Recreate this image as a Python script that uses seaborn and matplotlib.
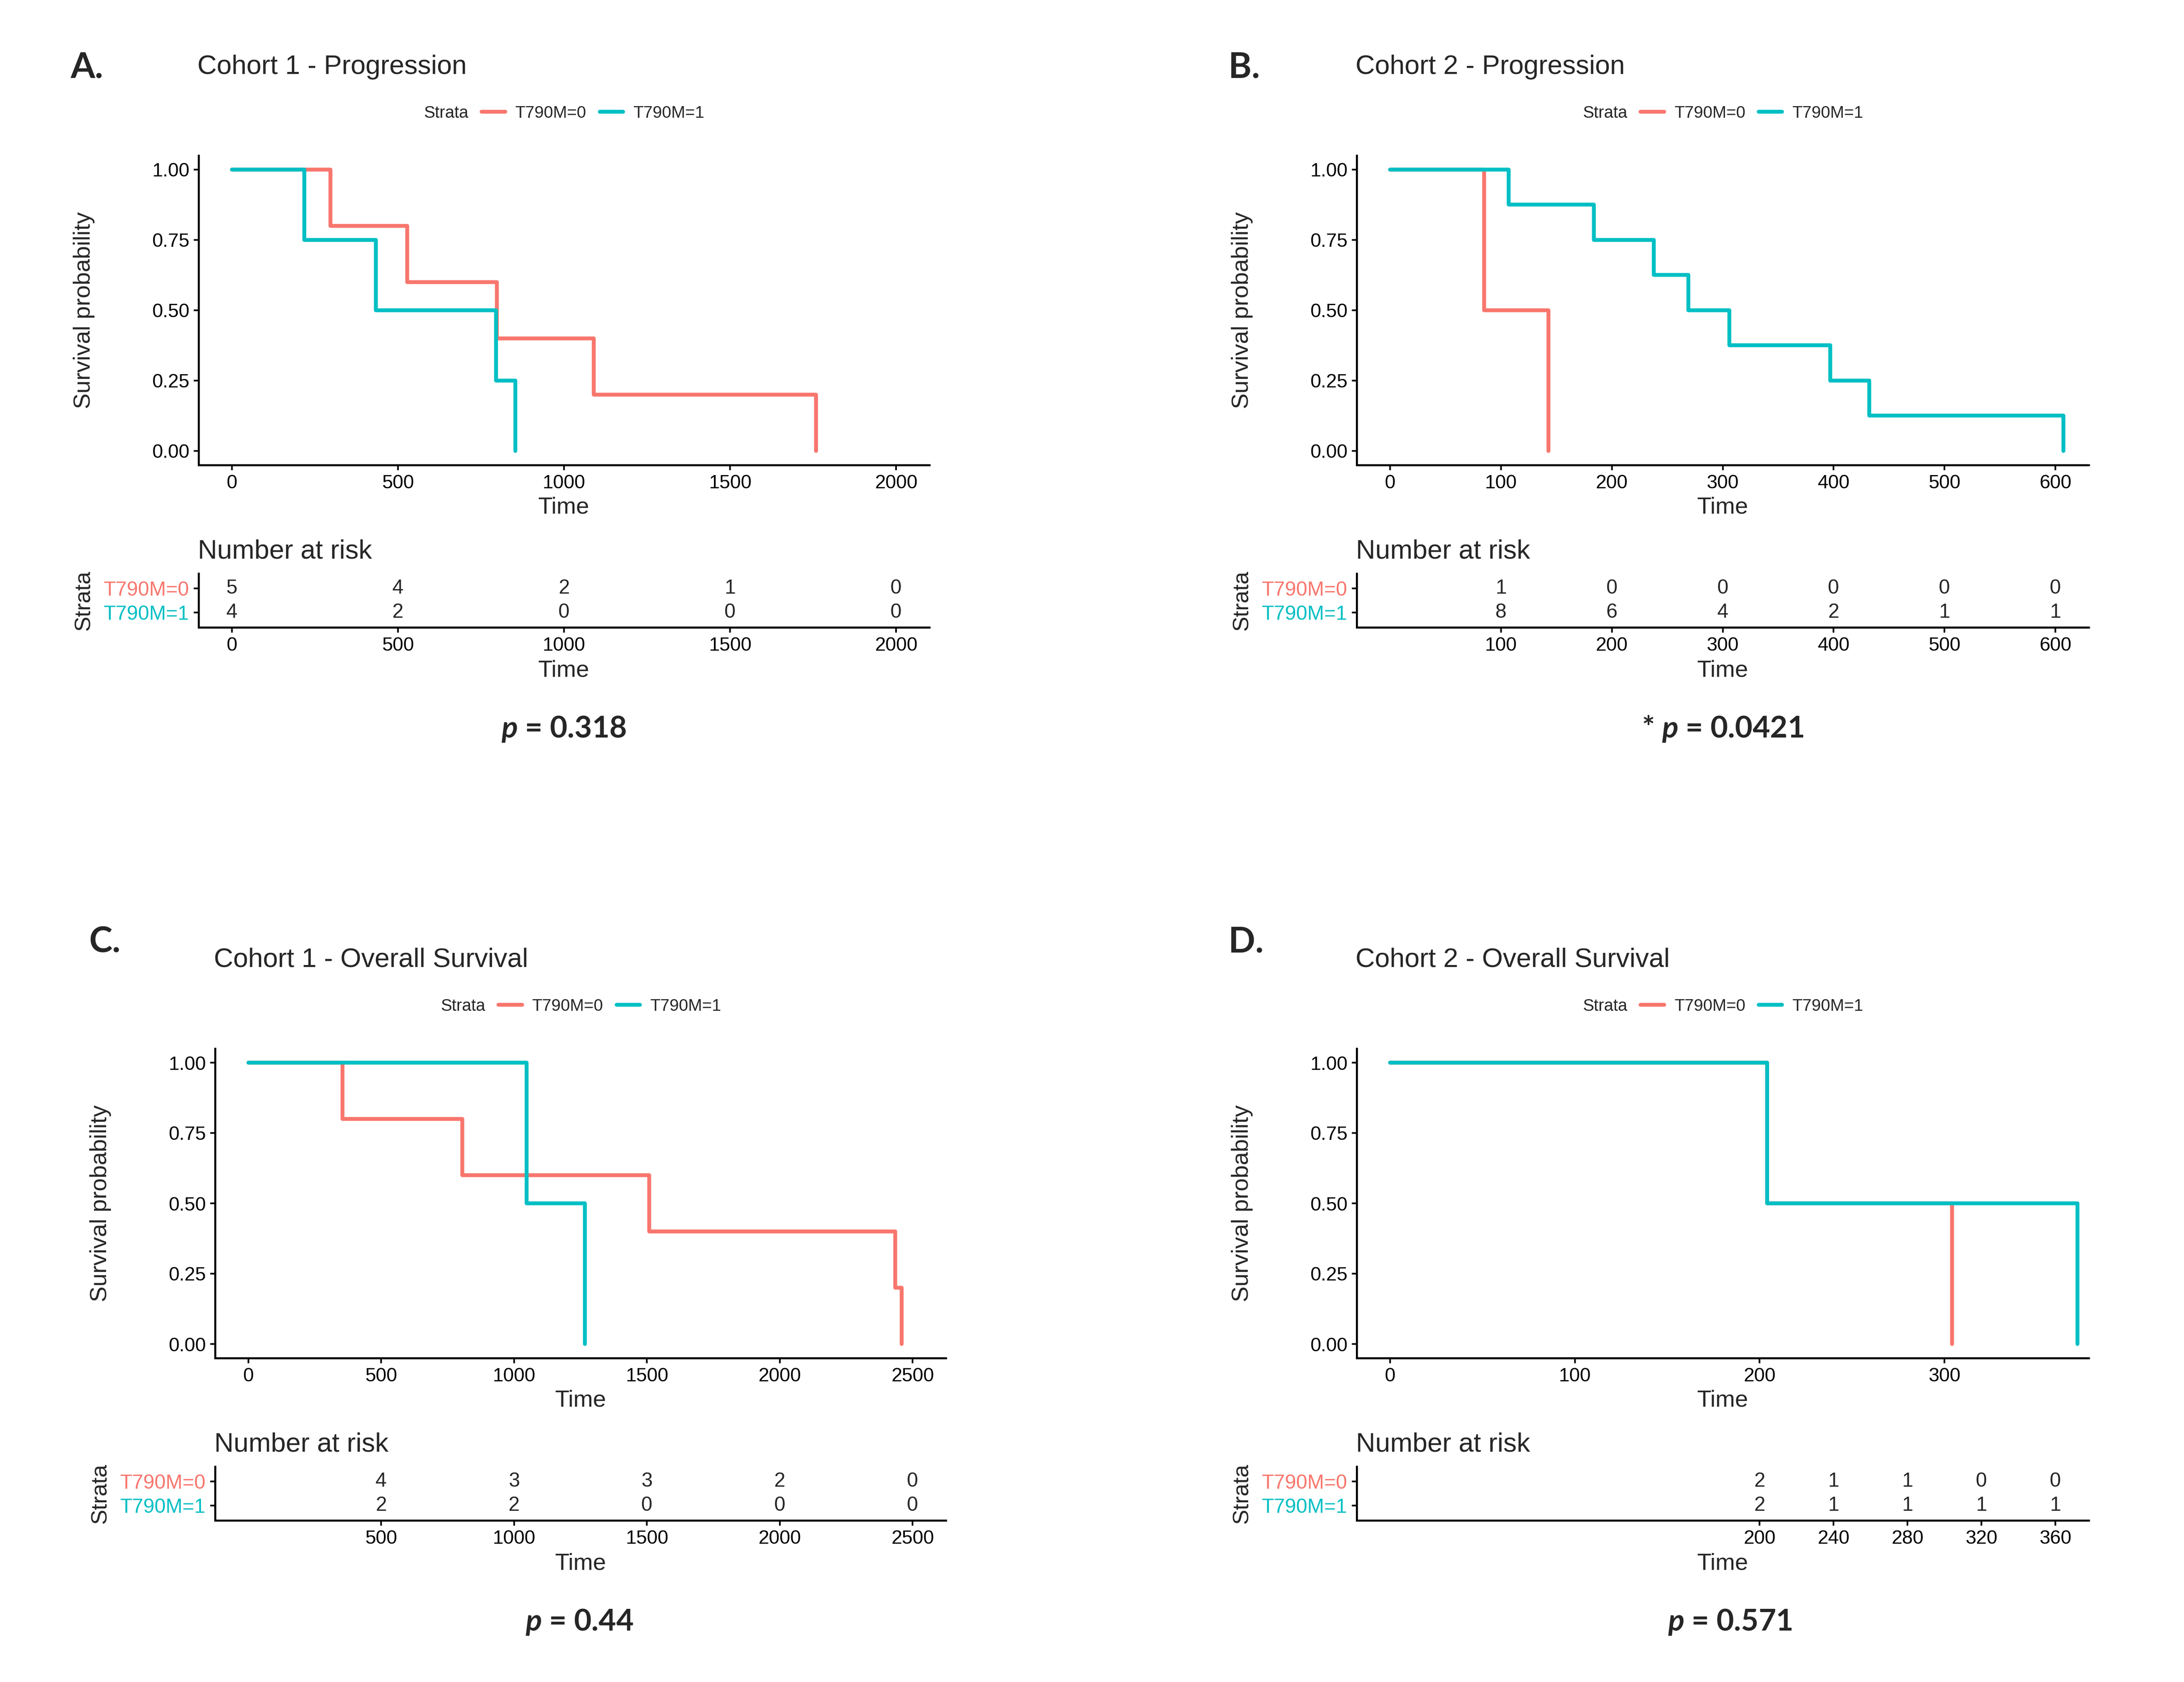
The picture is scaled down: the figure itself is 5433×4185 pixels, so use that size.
import pandas as pd
import seaborn as sns
import matplotlib.pyplot as plt
from matplotlib.lines import Line2D

sns.set_style("ticks")
plt.rcParams['font.family'] = ['Liberation Sans', 'DejaVu Sans']
plt.rcParams['mathtext.fontset'] = 'custom'
plt.rcParams['mathtext.it'] = 'Lato:italic:bold'
plt.rcParams['mathtext.rm'] = 'Lato:bold'

RED = '#F8766D'
CYAN = '#00BFC4'
strata = ['T790M=0', 'T790M=1']

# --- A: cohort 1 progression
a_time0 = [0, 297, 528, 798, 1089, 1759]
a_surv0 = [1.0, 0.8, 0.6, 0.4, 0.2, 0.0]
a_time1 = [0, 218, 434, 796, 854]
a_surv1 = [1.0, 0.75, 0.5, 0.25, 0.0]
a_ticks = [0, 500, 1000, 1500, 2000]
a_risk_ticks = [0, 500, 1000, 1500, 2000]
a_risk0 = [5, 4, 2, 1, 0]
a_risk1 = [4, 2, 0, 0, 0]

# --- B: cohort 2 progression
b_time0 = [0, 85, 143]
b_surv0 = [1.0, 0.5, 0.0]
b_time1 = [0, 107, 184, 238, 269, 306, 397, 432, 607]
b_surv1 = [1.0, 0.875, 0.75, 0.625, 0.5, 0.375, 0.25, 0.125, 0.0]
b_ticks = [0, 100, 200, 300, 400, 500, 600]
b_risk_ticks = [100, 200, 300, 400, 500, 600]
b_risk0 = [1, 0, 0, 0, 0, 0]
b_risk1 = [8, 6, 4, 2, 1, 1]

# --- C: cohort 1 overall survival
c_time0 = [0, 354, 806, 1509, 2435, 2458]
c_surv0 = [1.0, 0.8, 0.6, 0.4, 0.2, 0.0]
c_time1 = [0, 1048, 1267]
c_surv1 = [1.0, 0.5, 0.0]
c_ticks = [0, 500, 1000, 1500, 2000, 2500]
c_risk_ticks = [500, 1000, 1500, 2000, 2500]
c_risk0 = [4, 3, 3, 2, 0]
c_risk1 = [2, 2, 0, 0, 0]

# --- D: cohort 2 overall survival
d_time0 = [0, 204, 304]
d_surv0 = [1.0, 0.5, 0.0]
d_time1 = [0, 204, 372]
d_surv1 = [1.0, 0.5, 0.0]
d_ticks = [0, 100, 200, 300]
d_risk_ticks = [200, 240, 280, 320, 360]
d_risk0 = [2, 1, 1, 0, 0]
d_risk1 = [2, 1, 1, 1, 1]

panels = [
    dict(letter='A.', title='Cohort 1 - Progression', pval=r'$\mathit{p}$ = 0.318',
         t0=a_time0, s0=a_surv0, t1=a_time1, s1=a_surv1, ticks=a_ticks, xlim=(-100, 2100),
         rticks=a_risk_ticks, r0=a_risk0, r1=a_risk1,
         x0=494, x1=2312, dy=0, letter_xy=(175, 168), leg_x=1403, p_xy=(1403, 1814)),
    dict(letter='B.', title='Cohort 2 - Progression', pval=r'* $\mathit{p}$ = 0.0421',
         t0=b_time0, s0=b_surv0, t1=b_time1, s1=b_surv1, ticks=b_ticks, xlim=(-30, 630),
         rticks=b_risk_ticks, r0=b_risk0, r1=b_risk1,
         x0=3375, x1=5196, dy=0, letter_xy=(3056, 168), leg_x=4286, p_xy=(4286, 1814)),
    dict(letter='C.', title='Cohort 1 - Overall Survival', pval=r'$\mathit{p}$ = 0.44',
         t0=c_time0, s0=c_surv0, t1=c_time1, s1=c_surv1, ticks=c_ticks, xlim=(-125, 2625),
         rticks=c_risk_ticks, r0=c_risk0, r1=c_risk1,
         x0=535, x1=2353, dy=2222, letter_xy=(222, 2344), leg_x=1445, p_xy=(1441, 4036)),
    dict(letter='D.', title='Cohort 2 - Overall Survival', pval=r'$\mathit{p}$ = 0.571',
         t0=d_time0, s0=d_surv0, t1=d_time1, s1=d_surv1, ticks=d_ticks, xlim=(-18, 378),
         rticks=d_risk_ticks, r0=d_risk0, r1=d_risk1,
         x0=3375, x1=5196, dy=2222, letter_xy=(3056, 2344), leg_x=4286, p_xy=(4304, 4036)),
]

W, H = 5433, 4185
fig = plt.figure(figsize=(W / 300, H / 300), dpi=300)


def fbox(l, t, r, b):
    return [l / W, 1 - b / H, (r - l) / W, (b - t) / H]


def fxy(x, y):
    return (x / W, 1 - y / H)


def style_axis(ax):
    sns.despine(ax=ax)
    for side in ['left', 'bottom']:
        ax.spines[side].set_linewidth(1.2)
        ax.spines[side].set_color('black')
    ax.tick_params(direction='out', length=3, width=1.0, pad=2.5,
                   labelsize=11.5, colors='black')


for p in panels:
    dy = p['dy']
    width_px = p['x1'] - p['x0']

    # survival curves
    df = pd.concat([
        pd.DataFrame({'Time': p['t0'], 'surv': p['s0'], 'Strata': strata[0]}),
        pd.DataFrame({'Time': p['t1'], 'surv': p['s1'], 'Strata': strata[1]}),
    ], ignore_index=True)

    ax = fig.add_axes(fbox(p['x0'], 387 + dy, p['x1'], 1157 + dy))
    sns.lineplot(data=df, x='Time', y='surv', hue='Strata',
                 palette={strata[0]: RED, strata[1]: CYAN},
                 estimator=None, sort=False, errorbar=None, legend=False,
                 drawstyle='steps-post', linewidth=2.3, ax=ax)
    ax.set_xlim(*p['xlim'])
    ax.set_ylim(-0.05, 1.05)
    ax.set_xticks(p['ticks'])
    ax.set_yticks([0, 0.25, 0.5, 0.75, 1.0])
    ax.set_yticklabels(['0.00', '0.25', '0.50', '0.75', '1.00'])
    style_axis(ax)
    ax.set_xlabel('Time', fontsize=14)
    ax.xaxis.label.set_va('center')
    ax.xaxis.set_label_coords(0.5, -106 / 770)
    ax.set_ylabel('Survival probability', fontsize=14)
    ax.yaxis.label.set_va('center')
    ax.yaxis.set_label_coords(-285 / width_px, 0.5)

    # legend with the title on the left
    handles = [Line2D([], [], color=RED, lw=2.3), Line2D([], [], color=CYAN, lw=2.3)]
    leg = ax.legend(handles, strata, title='Strata', ncol=2, frameon=False, loc='center',
                    bbox_to_anchor=fxy(p['leg_x'], 282 + dy), bbox_transform=fig.transFigure,
                    fontsize=10, title_fontsize=10, handlelength=1.4, handletextpad=0.6,
                    columnspacing=0.8, borderpad=0, borderaxespad=0)
    hbox = leg._legend_handle_box
    leg._legend_box._children = [hbox]
    hbox._children.insert(0, leg._legend_title_box)
    hbox.align = 'center'

    # number at risk table
    rax = fig.add_axes(fbox(p['x0'], 1427 + dy, p['x1'], 1561 + dy))
    for x, n0, n1 in zip(p['rticks'], p['r0'], p['r1']):
        rax.text(x, 1, str(n0), ha='center', va='center', fontsize=12)
        rax.text(x, 0, str(n1), ha='center', va='center', fontsize=12)
    rax.set_xlim(*p['xlim'])
    rax.set_ylim(-0.6, 1.6)
    rax.set_xticks(p['rticks'])
    rax.set_yticks([1, 0])
    rax.set_yticklabels(strata)
    style_axis(rax)
    rax.tick_params(axis='y', labelsize=12)
    for lbl, c in zip(rax.get_yticklabels(), [RED, CYAN]):
        lbl.set_color(c)
    rax.set_xlabel('Time', fontsize=14)
    rax.xaxis.label.set_va('center')
    rax.xaxis.set_label_coords(0.5, -108 / 134)
    rax.set_ylabel('Strata', fontsize=13.5)
    rax.yaxis.label.set_va('center')
    rax.yaxis.set_label_coords(-285 / width_px, 0.5)

    # titles and annotations
    fig.text(*fxy(p['x0'] - 3, 167 + dy), p['title'], fontsize=16, ha='left', va='center')
    fig.text(*fxy(p['x0'] - 2, 1372 + dy), 'Number at risk', fontsize=16, ha='left', va='center')
    fig.text(*fxy(*p['letter_xy']), p['letter'], family=['Lato', 'DejaVu Sans'],
             fontweight='bold', fontsize=21, ha='left', va='center')
    fig.text(*fxy(*p['p_xy']), p['pval'], family=['Lato', 'DejaVu Sans'],
             fontweight='bold', fontsize=18, ha='center', va='center')

fig.savefig('out.png', dpi=300)
